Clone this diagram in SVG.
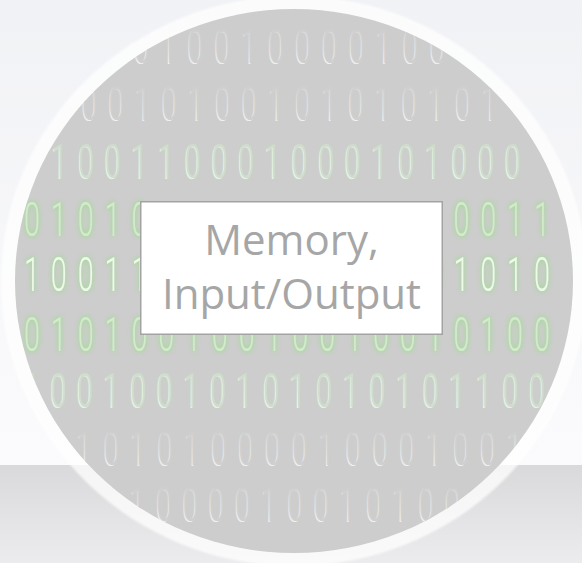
<svg xmlns="http://www.w3.org/2000/svg" xmlns:xlink="http://www.w3.org/1999/xlink" width="582" height="563" viewBox="0 0 582 563">
  <style>
    .dg { font-family: Roboto, "DejaVu Sans", sans-serif; font-weight: 300; font-size: 48px; text-anchor: middle; }
    .hl { fill: url(#shine); }
    .face { fill: #cfcfcf; }
    .hl-g { fill: url(#shineGreen); }
    .face-g { fill: #d2dbcf; }
    .lit { fill: #d3ebcb; }
    .lit-hi { fill: #eef9ea; }
    .label { font-family: "Open Sans", "Liberation Sans", sans-serif; font-size: 42px; fill: #a6a6a6; text-anchor: middle; }
  </style>
  <defs>
    <linearGradient id="bgTop" x1="0" y1="0" x2="0" y2="1">
      <stop offset="0" stop-color="#f1f2f5"/>
      <stop offset="1" stop-color="#fbfbfd"/>
    </linearGradient>
    <linearGradient id="bgBottom" x1="0" y1="0" x2="0" y2="1">
      <stop offset="0" stop-color="#d9d9db"/>
      <stop offset="1" stop-color="#ececef"/>
    </linearGradient>
    <!-- embossed edge: bright at the foot of each digit, fading upwards -->
    <linearGradient id="shine" x1="0" y1="0" x2="0" y2="1">
      <stop offset="0" stop-color="#ffffff" stop-opacity="0.1"/>
      <stop offset="0.55" stop-color="#ffffff" stop-opacity="0.45"/>
      <stop offset="1" stop-color="#ffffff" stop-opacity="0.95"/>
    </linearGradient>
    <linearGradient id="shineGreen" x1="0" y1="0" x2="0" y2="1">
      <stop offset="0" stop-color="#e4f5dc" stop-opacity="0.7"/>
      <stop offset="1" stop-color="#f4fbf1" stop-opacity="0.95"/>
    </linearGradient>
    <clipPath id="disc">
      <ellipse cx="294" cy="281" rx="279" ry="272"/>
    </clipPath>
    <filter id="glow" x="-20%" y="-40%" width="140%" height="180%">
      <feGaussianBlur in="SourceAlpha" stdDeviation="2.6" result="b"/>
      <feFlood flood-color="#a2dc96"/>
      <feComposite in2="b" operator="in" result="g"/>
      <feMerge><feMergeNode in="g"/><feMergeNode in="g"/><feMergeNode in="SourceGraphic"/></feMerge>
    </filter>
    <filter id="glowSoft" x="-20%" y="-40%" width="140%" height="180%">
      <feGaussianBlur in="SourceAlpha" stdDeviation="2" result="b"/>
      <feFlood flood-color="#b8e2ae" flood-opacity="0.45"/>
      <feComposite in2="b" operator="in" result="g"/>
      <feMerge><feMergeNode in="g"/><feMergeNode in="SourceGraphic"/></feMerge>
    </filter>
    <filter id="soft" x="-5%" y="-5%" width="110%" height="110%">
      <feGaussianBlur stdDeviation="1.2"/>
    </filter>

    <!-- binary rows, drawn in a horizontally condensed space (x / 0.6) -->
    <text id="r1" class="dg" transform="scale(0.6 1)" y="63" x="236.7 281.5 326.3 371.2 416.0 460.8 505.7 550.5 595.3 640.2 685.0 729.8">010010000100</text>
    <text id="r2" class="dg" transform="scale(0.6 1)" y="120" x="150.0 194.5 238.9 283.4 327.8 372.3 416.7 461.2 505.6 550.1 594.5 639.0 683.4 727.9 772.3 816.8">0010100101010101</text>
    <text id="r3" class="dg" transform="scale(0.6 1)" y="178" x="55.0 99.5 143.9 188.4 232.8 277.3 321.7 366.2 410.6 455.1 499.5 544.0 588.4 632.9 677.3 721.8 766.2 810.7 855.1">0100110001000101000</text>
    <text id="r4" class="dg" transform="scale(0.6 1)" y="236" x="53.3 98.1 142.8 187.5 232.3 769.0 813.7 858.5 903.2">010100011</text>
    <text id="r5" class="dg" transform="scale(0.6 1)" y="291" x="53.3 98.1 142.8 187.5 232.3 724.3 769.0 813.7 858.5 903.2">1001101010</text>
    <text id="r6" class="dg" transform="scale(0.6 1)" y="351" x="53.3 98.1 142.8 187.5 232.3 277.0 321.7 366.4 411.2 455.9 500.6 545.4 590.1 634.8 679.6 724.3 769.0 813.7 858.5 903.2">01010010010010010100</text>
    <text id="r7" class="dg" transform="scale(0.6 1)" y="407" x="53.3 97.7 142.0 186.3 230.7 275.0 319.3 363.6 408.0 452.3 496.6 541.0 585.3 629.6 674.0 718.3 762.6 806.9 851.3 895.6">10010010101010101100</text>
    <text id="r8" class="dg" transform="scale(0.6 1)" y="465" x="141.7 186.5 231.3 276.2 321.0 365.8 410.7 455.5 500.3 545.2 590.0 634.8 679.7 724.5 769.3 814.2 859.0">10101000010001001</text>
    <text id="r9" class="dg" transform="scale(0.6 1)" y="521" x="186.7 230.4 274.2 317.9 361.7 405.4 449.2 492.9 536.7 580.4 624.2 667.9 711.7 755.4 799.2">110000100101001</text>
  </defs>

  <!-- backdrop: pale wall and grey floor band -->
  <rect x="0" y="0" width="582" height="465" fill="url(#bgTop)"/>
  <rect x="0" y="465" width="582" height="98" fill="url(#bgBottom)"/>

  <!-- disc with translucent white rim -->
  <ellipse cx="294" cy="281" rx="293" ry="285" fill="#ffffff" opacity="0.75" filter="url(#soft)"/>
  <ellipse cx="294" cy="281" rx="279" ry="272" fill="#cdcdcd"/>

  <!-- binary pattern -->
  <g clip-path="url(#disc)">
    <g id="plain-rows">
      <use xlink:href="#r1" class="hl" transform="translate(-1.2 1.5)"/>
      <use xlink:href="#r1" class="face"/>
      <use xlink:href="#r2" class="hl" transform="translate(-1.2 1.5)"/>
      <use xlink:href="#r2" class="face"/>
      <use xlink:href="#r8" class="hl" transform="translate(-1.2 1.5)"/>
      <use xlink:href="#r8" class="face"/>
      <use xlink:href="#r9" class="hl" transform="translate(-1.2 1.5)"/>
      <use xlink:href="#r9" class="face"/>
    </g>
    <g id="tinted-rows">
      <use xlink:href="#r3" class="hl-g" transform="translate(-1.2 1.5)"/>
      <g filter="url(#glowSoft)"><use xlink:href="#r3" class="face-g"/></g>
      <use xlink:href="#r7" class="hl-g" transform="translate(-1.2 1.5)"/>
      <g filter="url(#glowSoft)"><use xlink:href="#r7" class="face-g"/></g>
    </g>
    <g id="lit-rows">
      <g filter="url(#glow)"><use xlink:href="#r4" class="lit"/></g>
      <g filter="url(#glow)"><use xlink:href="#r5" class="lit-hi"/></g>
      <g filter="url(#glow)"><use xlink:href="#r6" class="lit"/></g>
    </g>
  </g>

  <g id="connectors"/>

  <!-- label node -->
  <g id="memory-io">
    <rect x="140.75" y="201.75" width="301.5" height="132.5" fill="#ffffff" stroke="#a3a3a3" stroke-width="1.5"/>
    <text class="label" x="291.5" y="255">Memory,</text>
    <text class="label" x="291.5" y="309">Input/Output</text>
  </g>
</svg>
